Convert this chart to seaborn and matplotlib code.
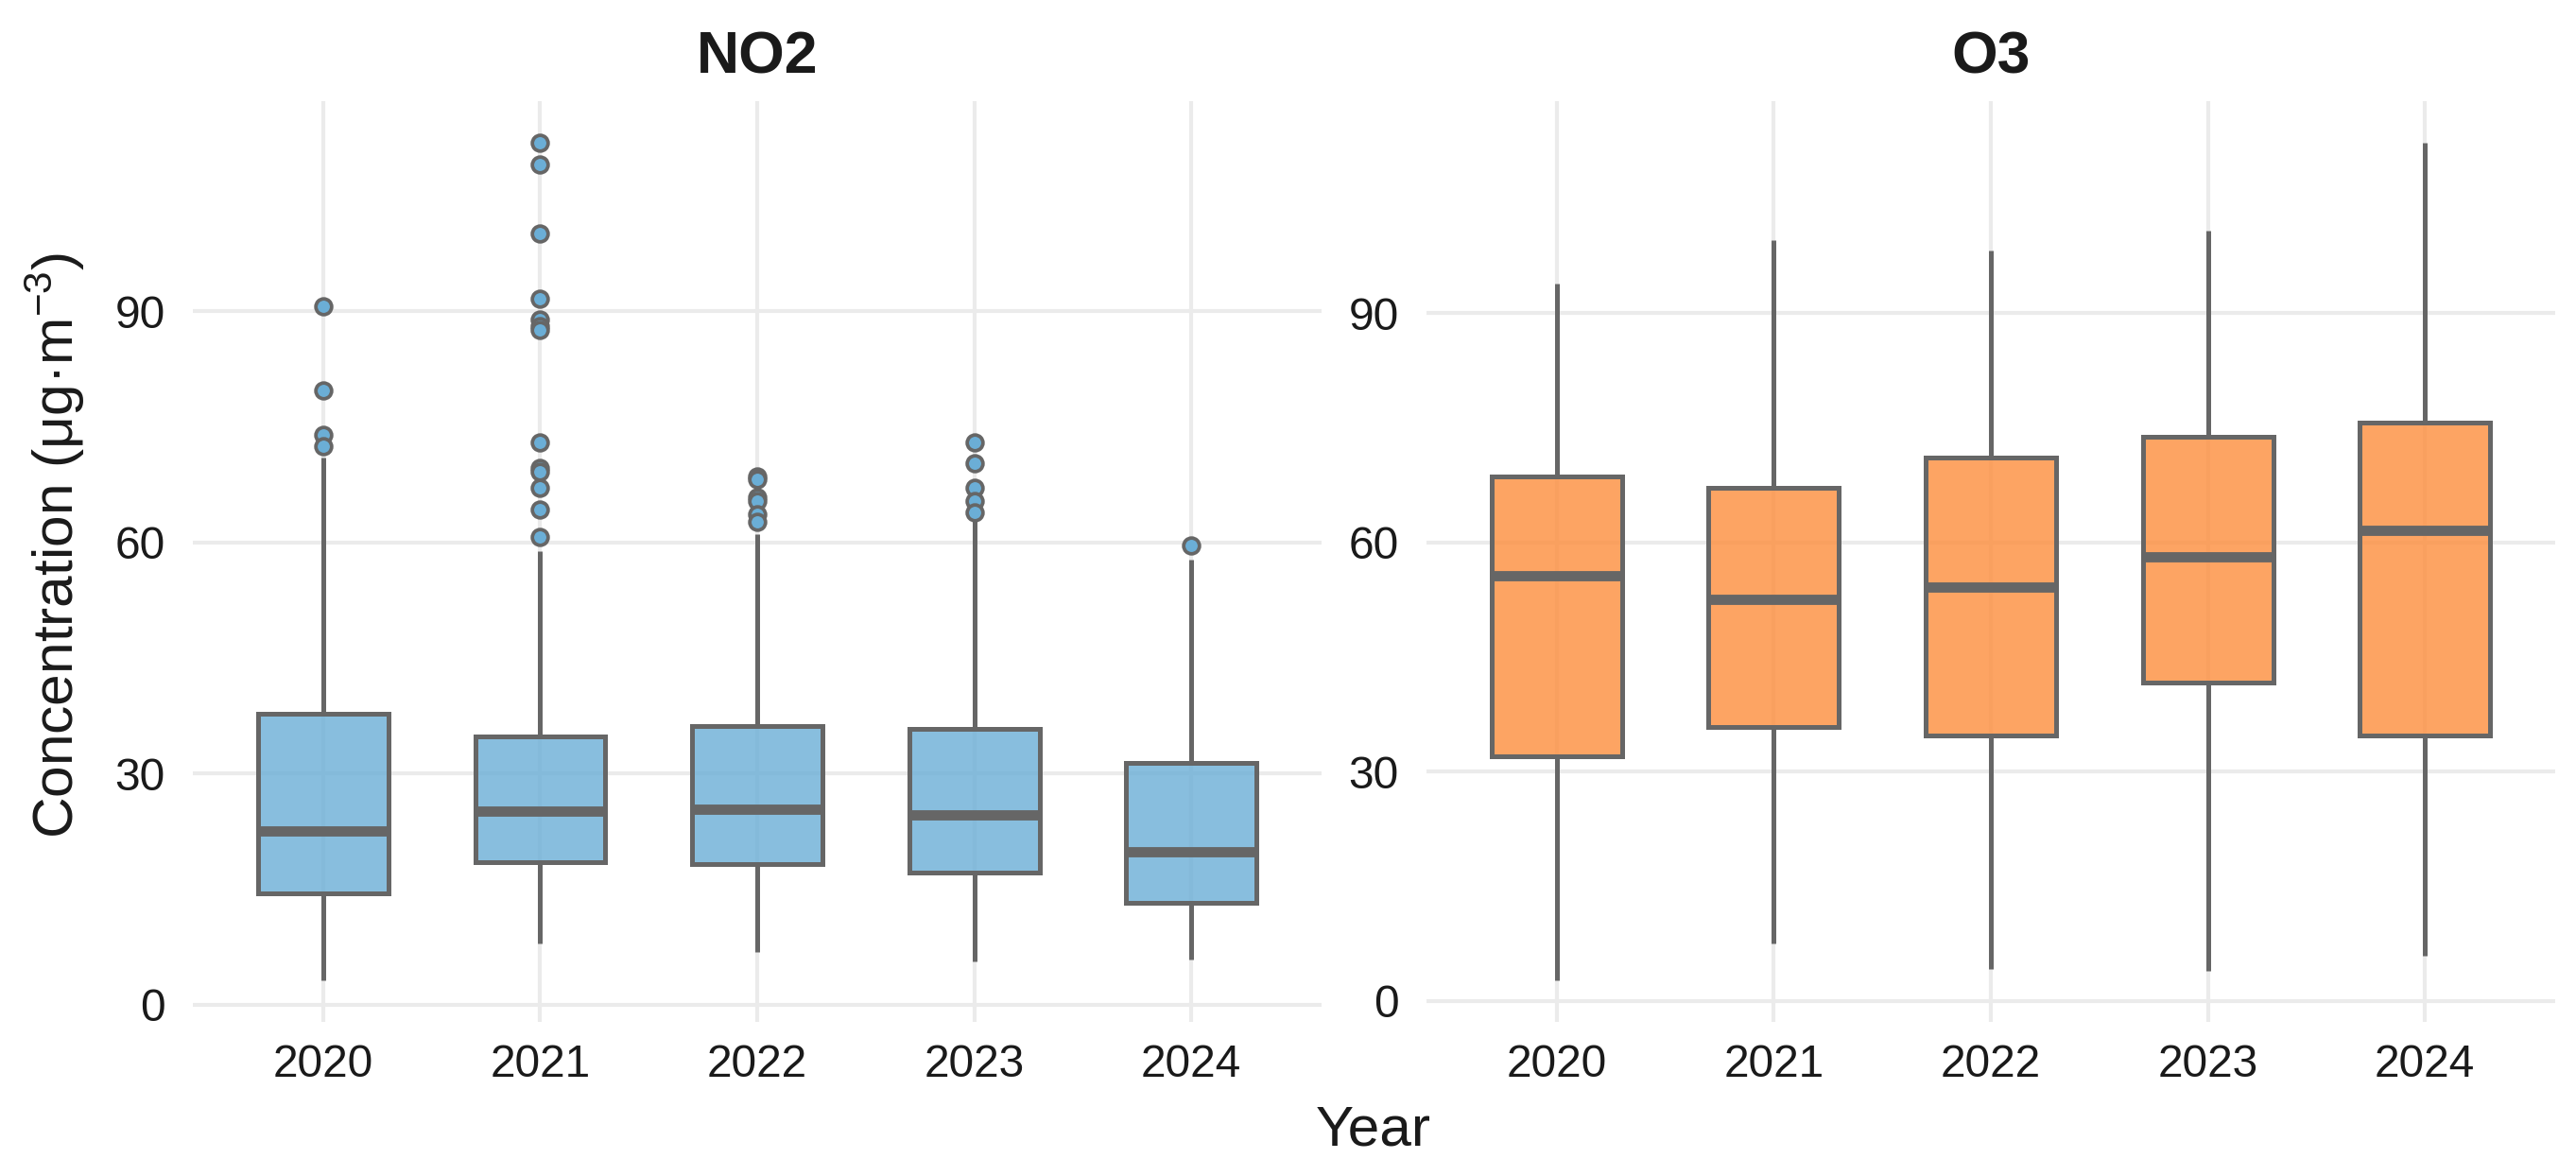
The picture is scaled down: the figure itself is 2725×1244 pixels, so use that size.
import matplotlib
matplotlib.use("Agg")
import matplotlib.pyplot as plt
import seaborn as sns
from matplotlib.colors import to_rgba

# ---------------- data ----------------
years = ["2020", "2021", "2022", "2023", "2024"]

no2_whislo = [3.2, 7.9, 6.8, 5.6, 5.9]
no2_q1 = [14.4, 18.5, 18.3, 17.1, 13.2]
no2_med = [22.5, 25.1, 25.4, 24.6, 19.9]
no2_q3 = [37.7, 34.8, 36.1, 35.8, 31.4]
no2_whishi = [71.0, 58.9, 61.1, 63.0, 57.7]
no2_fliers = [
    [90.6, 79.7, 73.9, 72.5],
    [111.8, 109.0, 100.0, 91.6, 88.9, 88.1, 87.5, 73.0, 69.7, 69.1, 67.1, 64.3, 60.7],
    [68.5, 68.2, 65.9, 65.4, 63.6, 62.7],
    [72.9, 70.2, 67.1, 65.4, 63.9],
    [59.6],
]

o3_whislo = [2.7, 7.5, 4.2, 3.9, 5.9]
o3_q1 = [32.0, 35.9, 34.7, 41.7, 34.7]
o3_med = [55.6, 52.6, 54.1, 58.1, 61.6]
o3_q3 = [68.6, 67.1, 71.1, 73.8, 75.7]
o3_whishi = [93.9, 99.6, 98.2, 100.8, 112.3]
o3_fliers = [[], [], [], [], []]

y_ticks = [0, 30, 60, 90]
panel_titles = ["NO2", "O3"]
fill_colors = ["#6BAED6", "#FD8D3C"]

# ---------------- style ----------------
sns.set_theme(style="whitegrid")
plt.rcParams["font.family"] = ["Liberation Sans", "DejaVu Sans"]
plt.rcParams["mathtext.fontset"] = "custom"
plt.rcParams["mathtext.rm"] = "Liberation Sans"
plt.rcParams["mathtext.it"] = "Liberation Sans:italic"
plt.rcParams["mathtext.bf"] = "Liberation Sans:bold"

W, H = 2725, 1244
fig = plt.figure(figsize=(W / 300, H / 300), dpi=300)
fig.patch.set_facecolor("white")

ax_top, ax_bot = 107, 1081
lefts = [204, 1509]
ax_w = 1194

edge = "#666666"
text_col = "#1A1A1A"

panels = [
    (no2_whislo, no2_q1, no2_med, no2_q3, no2_whishi, no2_fliers),
    (o3_whislo, o3_q1, o3_med, o3_q3, o3_whishi, o3_fliers),
]

for i, (wlo, q1, med, q3, whi, fl) in enumerate(panels):
    ax = fig.add_axes([lefts[i] / W, 1 - ax_bot / H, ax_w / W, (ax_bot - ax_top) / H])
    ax.set_facecolor("white")
    stats = []
    for j, yr in enumerate(years):
        stats.append(dict(label=yr, whislo=wlo[j], q1=q1[j], med=med[j],
                          q3=q3[j], whishi=whi[j], fliers=fl[j]))
    bp = ax.bxp(
        stats,
        positions=list(range(len(years))),
        widths=0.6,
        patch_artist=True,
        showcaps=False,
        boxprops=dict(facecolor=to_rgba(fill_colors[i], 0.8), edgecolor=edge,
                      linewidth=1.2, joinstyle="miter"),
        whiskerprops=dict(color=edge, linewidth=1.2, solid_capstyle="butt"),
        medianprops=dict(color=edge, linewidth=2.6, solid_capstyle="butt"),
        flierprops=dict(marker="o", markerfacecolor=fill_colors[i],
                        markeredgecolor=edge, markersize=4.0, markeredgewidth=0.9,
                        linestyle="none"),
    )
    allv = wlo + whi + [v for f in fl for v in f]
    lo, hi = min(allv), max(allv)
    pad = 0.05 * (hi - lo)
    ax.set_ylim(lo - pad, hi + pad)
    ax.set_xlim(-0.6, len(years) - 0.4)
    ax.set_yticks(y_ticks)
    ax.set_yticklabels([str(t) for t in y_ticks])
    ax.set_xticks(list(range(len(years))))
    ax.set_xticklabels(years)
    ax.grid(True, which="major", color="#EBEBEB", linewidth=1.0)
    ax.set_axisbelow(True)
    for s in ax.spines.values():
        s.set_visible(False)
    ax.tick_params(axis="both", length=0, labelsize=11.5, labelcolor=text_col)
    ax.tick_params(axis="y", pad=7)
    ax.tick_params(axis="x", pad=5.5)
    ax.set_xlabel("")
    ax.set_ylabel("")
    ax.text(0.5, 1 + 30 / (ax_bot - ax_top), panel_titles[i], transform=ax.transAxes,
            ha="center", va="baseline", fontsize=15, fontweight="bold", color=text_col)

fig.text(1453 / W, 1 - 1212 / H, "Year", ha="center", va="baseline",
         fontsize=14.5, color=text_col)
fig.text(58 / W, 0.536, "Concentration (μg·m$^{-3}$)", rotation=90,
         ha="center", va="center", fontsize=14.5, color=text_col)

fig.savefig("out.png", dpi=300, facecolor="white")
